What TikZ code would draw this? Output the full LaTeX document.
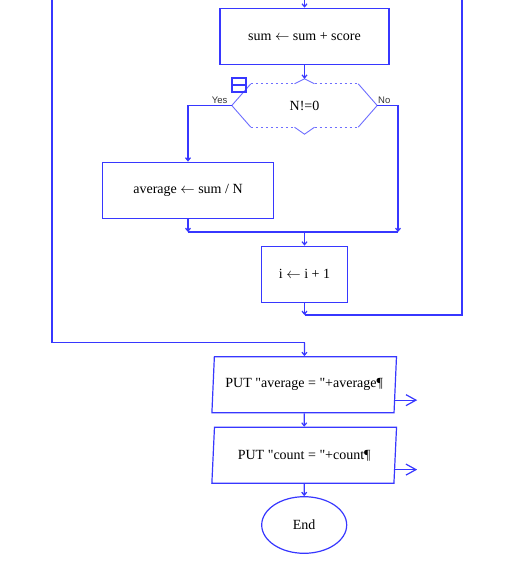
\documentclass[tikz,border=0pt]{standalone}
\usepackage{fontspec}
\setmainfont{Liberation Serif}[Ligatures=TeXOff]
\newfontfamily\branchfont{Liberation Sans}
\usetikzlibrary{shapes.geometric, arrows.meta, positioning, calc}
\definecolor{flowblue}{RGB}{55, 55, 255}
\definecolor{dashblue}{RGB}{110, 110, 255}
\tikzstyle{process} = [rectangle, minimum height=56pt, inner sep=0pt, text centered, draw=flowblue, line width=1.2pt, font=\fontsize{14}{16}\selectfont]
\tikzstyle{io} = [trapezium, trapezium left angle=80, trapezium right angle=100, trapezium stretches=true, minimum width=185pt, minimum height=56pt, inner sep=0pt, text centered, draw=flowblue, line width=1.2pt, font=\fontsize{14}{16}\selectfont]
\tikzstyle{terminal} = [ellipse, minimum width=85pt, minimum height=56.6pt, inner sep=0pt, draw=flowblue, line width=1.2pt, font=\fontsize{14}{16}\selectfont]
\tikzstyle{decision} = [rectangle, minimum width=145pt, minimum height=43pt, inner sep=0pt, font=\fontsize{14}{16}\selectfont]
\tikzstyle{flowline} = [flowblue, line width=1.2pt]
\tikzstyle{arrow} = [flowline, -{Straight Barb[length=3pt,width=5pt]}]
\tikzstyle{output} = [flowline, -{Straight Barb[length=10pt,width=11pt]}]
\tikzstyle{edge} = [dashblue, line width=0.9pt]
\tikzstyle{branch} = [text=black!80, font=\branchfont\fontsize{9.5}{10}\selectfont, inner sep=1.5pt]

\begin{document}
\begin{tikzpicture}[x=1pt, y=-1pt]
\useasboundingbox (0,0) rectangle (528,565);

% Loop body
\node (sumbox) [process, minimum width=169pt] at (304.5,36.3) {sum $\leftarrow$ sum + score};
\node (cond) [decision] at (304.5,105.5) {N!=0};
\node (avgbox) [process, minimum width=170.6pt] at (188,190.2) {average $\leftarrow$ sum / N};
\node (incbox) [process, minimum width=85.3pt] at (304.5,274.2) {i $\leftarrow$ i + 1};

% After the loop
\node (put1) [io] at (304.2,384.7) {PUT "average = "+average¶};
\node (put2) [io] at (304.2,455.3) {PUT "count = "+count¶};
\node (endnode) [terminal] at (304.2,525) {End};

% Decision outline
\coordinate (condin) at ($(cond.north)+(0,-5)$);
\coordinate (condout) at ($(cond.south)+(0,7)$);
\draw [edge] ($(cond.north west)+(19,0)$) -- (cond.west) -- ($(cond.south west)+(19,0)$);
\draw [edge] ($(cond.north east)+(-19,0)$) -- (cond.east) -- ($(cond.south east)+(-19,0)$);
\draw [edge, dash pattern=on 2.5pt off 2.5pt] ($(cond.north west)+(19,0)$) -- ($(cond.north)+(-10,0)$);
\draw [edge, dash pattern=on 2.5pt off 2.5pt] ($(cond.north)+(10,0)$) -- ($(cond.north east)+(-19,0)$);
\draw [edge, dash pattern=on 2.5pt off 2.5pt] ($(cond.south west)+(19,0)$) -- ($(cond.south)+(-10,0)$);
\draw [edge, dash pattern=on 2.5pt off 2.5pt] ($(cond.south)+(10,0)$) -- ($(cond.south east)+(-19,0)$);
\draw [edge] ($(cond.north)+(-10,0)$) -- (condin) -- ($(cond.north)+(10,0)$);
\draw [edge] ($(cond.south)+(-10,0)$) -- (condout) -- ($(cond.south)+(10,0)$);
\draw [flowline] (232,78) rectangle (246,92);
\draw [flowline] (232,85) -- (246,85);

% Junctions
\coordinate (topC) at (304.5,0);
\coordinate (topL) at (52,0);
\coordinate (topR) at (462,0);
\coordinate (mergeL) at (188,232);
\coordinate (mergeR) at (398,232);
\coordinate (merge) at (304.5,232);
\coordinate (loopjoin) at (304.5,315);
\coordinate (exitjoin) at (304.5,342.7);
\coordinate (out1) at ($(put1.bottom right corner)!0.23!(put1.top right corner)$);
\coordinate (out1end) at ($(out1)+(22,0)$);
\coordinate (out2) at ($(put2.bottom right corner)!0.25!(put2.top right corner)$);
\coordinate (out2end) at ($(out2)+(22,0)$);

% Flow arrows
\draw [arrow] (topC) -- (sumbox);
\draw [arrow] (sumbox) -- (condin);
\draw [arrow] (cond.west) -| node[branch, pos=0.14, above] {Yes} (avgbox.north);
\draw [arrow] (cond.east) -| node[branch, pos=0.17, above] {No} (mergeR);
\draw [arrow] (avgbox) -- (mergeL);
\draw [flowline] (mergeL) -- (mergeR);
\draw [arrow] (merge) -- (incbox);
\draw [arrow] (incbox) -- (loopjoin);
\draw [flowline] (loopjoin) -| (topR);
\draw [flowline] (topL) |- (exitjoin);
\draw [arrow] (exitjoin) -- (put1);
\draw [arrow] (put1) -- (put2);
\draw [arrow] (put2) -- (endnode);

% Output ports
\draw [output] (out1) -- (out1end);
\draw [output] (out2) -- (out2end);

\end{tikzpicture}
\end{document}
